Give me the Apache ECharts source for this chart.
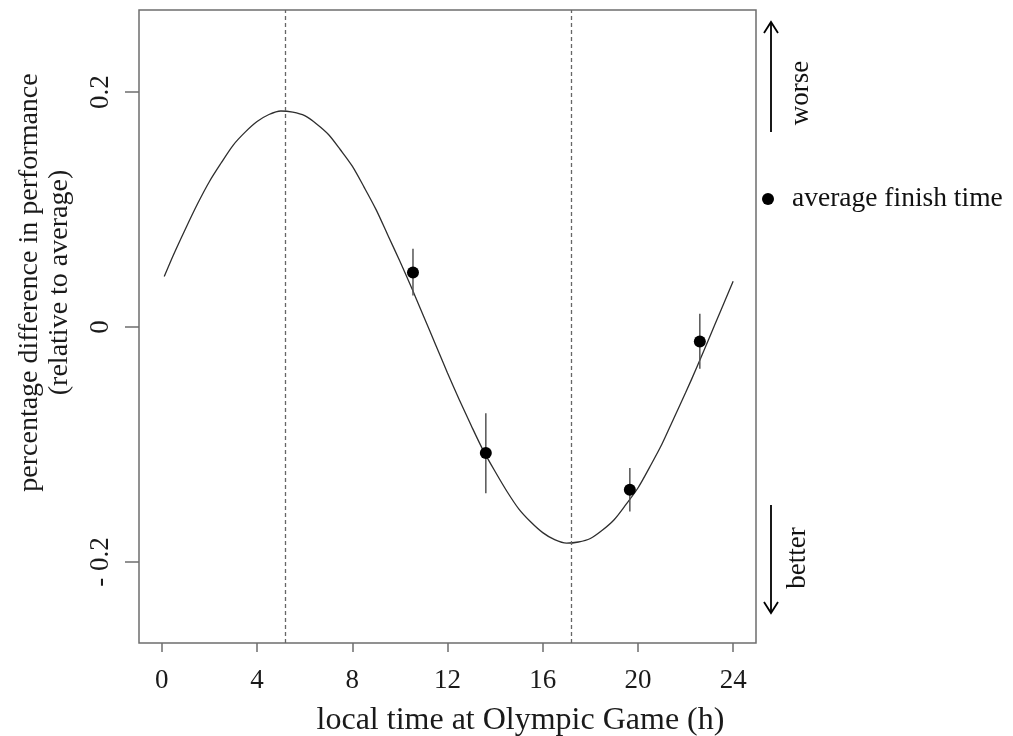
<!DOCTYPE html>
<html>
<head>
<meta charset="utf-8">
<script src="https://cdn.jsdelivr.net/npm/echarts@6/dist/echarts.min.js"></script>
<style>
html,body{margin:0;padding:0;background:#fff;}
#chart{width:1013px;height:736px;}
</style>
</head>
<body>
<div id="chart"></div>
<script>
// fitted curve (hour, % difference)
var curveX = [0.1, 0.5, 1, 1.5, 2, 2.5, 3, 3.5, 4, 4.5, 5, 5.5, 6, 6.5, 7, 7.5, 8, 8.5, 9, 9.5, 10, 10.5, 11, 11.5, 12,
              12.5, 13, 13.5, 14, 14.5, 15, 15.5, 16, 16.5, 17, 17.5, 18, 18.5, 19, 19.5, 20, 20.5, 21, 21.5, 22, 22.5, 23, 23.5, 24];
var curveY = [0.043, 0.062, 0.084, 0.105, 0.124, 0.140, 0.155, 0.166, 0.175, 0.181, 0.184, 0.183, 0.180, 0.173, 0.164, 0.151, 0.137, 0.119, 0.100, 0.078, 0.056, 0.033, 0.009, -0.015, -0.039,
              -0.062, -0.084, -0.105, -0.123, -0.140, -0.155, -0.166, -0.175, -0.181, -0.184, -0.183, -0.180, -0.173, -0.164, -0.151, -0.137, -0.119, -0.100, -0.078, -0.056, -0.033, -0.009, 0.015, 0.039];
// observed average finish time points with error bars
var pointX = [10.55, 13.61, 19.66, 22.60];
var pointY = [0.0465, -0.1073, -0.1386, -0.0123];
var errLow = [0.0269, -0.1414, -0.1570, -0.0355];
var errHigh = [0.0667, -0.0733, -0.1200, 0.0113];
// acrophase / bathyphase markers
var markerX = [5.18, 17.18];
// ticks
var xTicks = [0, 4, 8, 12, 16, 20, 24];
var yTicks = [-0.2, 0, 0.2];
var yTickLabels = ['- 0.2', '0', '0.2'];

var serif = "'Liberation Serif', 'DejaVu Serif', serif";
var chart = echarts.init(document.getElementById('chart'));

var curveData = curveX.map(function (x, i) { return [x, curveY[i]]; });
var pointData = pointX.map(function (x, i) { return [x, pointY[i]]; });
var errData = pointX.map(function (x, i) { return [x, errLow[i], errHigh[i]]; });

chart.setOption({
  animation: false,
  backgroundColor: '#ffffff',
  grid: {
    left: 139, top: 10, right: 257, bottom: 93,
    containLabel: false, outerBoundsMode: 'none',
    show: true, borderColor: '#6e6e6e', borderWidth: 1.5, backgroundColor: 'transparent'
  },
  legend: {
    data: [{ name: 'average finish time', icon: 'circle', itemStyle: { color: '#000', opacity: 1 } }],
    left: 757, top: 180,
    itemWidth: 12, itemHeight: 12,
    selectedMode: false,
    textStyle: { fontFamily: serif, fontSize: 27.5, color: '#111', padding: [0, 0, 0, 13] }
  },
  xAxis: {
    type: 'value', min: -0.96, max: 24.96,
    name: 'local time at Olympic Game (h)',
    nameLocation: 'middle', nameGap: 62,
    nameTextStyle: { fontFamily: serif, fontSize: 32, color: '#1a1a1a', padding: [0, 0, 0, 146] },
    axisLine: { show: false, onZero: false },
    splitLine: { show: false },
    axisTick: { show: true, length: 9, customValues: xTicks, lineStyle: { color: '#6e6e6e', width: 1.5 } },
    axisLabel: { customValues: xTicks, margin: 24, fontFamily: serif, fontSize: 27, color: '#1a1a1a' }
  },
  yAxis: {
    type: 'value', min: -0.269, max: 0.270,
    name: 'percentage difference in performance\n(relative to average)',
    nameLocation: 'middle', nameRotate: 90, nameGap: 64,
    nameTextStyle: { fontFamily: serif, fontSize: 28, lineHeight: 30, color: '#1a1a1a', padding: [0, 0, 0, 88] },
    axisLine: { show: false, onZero: false },
    splitLine: { show: false },
    axisTick: { show: true, length: 14, customValues: yTicks, lineStyle: { color: '#6e6e6e', width: 1.5 } },
    axisLabel: {
      customValues: yTicks, rotate: 90, margin: 25,
      fontFamily: serif, fontSize: 27, color: '#1a1a1a',
      formatter: function (v) {
        for (var i = 0; i < yTicks.length; i++) { if (Math.abs(yTicks[i] - v) < 1e-9) return yTickLabels[i]; }
        return '';
      }
    }
  },
  series: [
    {
      name: 'fit', type: 'line', data: curveData, smooth: 0.3, showSymbol: false,
      lineStyle: { color: '#2e2e2e', width: 1.3 }, silent: true, z: 2,
      markLine: {
        silent: true, symbol: ['none', 'none'], label: { show: false },
        lineStyle: { type: [4, 3], color: '#666', width: 1.3 },
        data: markerX.map(function (x) { return { xAxis: x }; })
      }
    },
    {
      name: 'error', type: 'custom', data: errData, silent: true, z: 3,
      renderItem: function (params, api) {
        var a = api.coord([api.value(0), api.value(1)]);
        var b = api.coord([api.value(0), api.value(2)]);
        return { type: 'line', shape: { x1: a[0], y1: a[1], x2: b[0], y2: b[1] }, style: { stroke: '#555', lineWidth: 1.5 } };
      }
    },
    {
      name: 'average finish time', type: 'scatter', data: pointData, symbol: 'circle', symbolSize: 12,
      itemStyle: { color: '#000', opacity: 1 }, z: 4
    }
  ],
  graphic: [
    { type: 'line', shape: { x1: 771, y1: 132, x2: 771, y2: 23 }, style: { stroke: '#000', lineWidth: 1.8 } },
    { type: 'polyline', shape: { points: [[764, 33], [771, 22], [778, 33]] }, style: { stroke: '#000', lineWidth: 1.8, fill: null } },
    { type: 'line', shape: { x1: 771, y1: 505, x2: 771, y2: 612 }, style: { stroke: '#000', lineWidth: 1.8 } },
    { type: 'polyline', shape: { points: [[764, 602], [771, 613], [778, 602]] }, style: { stroke: '#000', lineWidth: 1.8, fill: null } },
    { type: 'text', x: 801, y: 93, rotation: Math.PI / 2, style: { text: 'worse', font: '27px ' + serif, fill: '#111', align: 'center', verticalAlign: 'middle' } },
    { type: 'text', x: 798, y: 558, rotation: Math.PI / 2, style: { text: 'better', font: '27px ' + serif, fill: '#111', align: 'center', verticalAlign: 'middle' } }
  ]
});
</script>
</body>
</html>
